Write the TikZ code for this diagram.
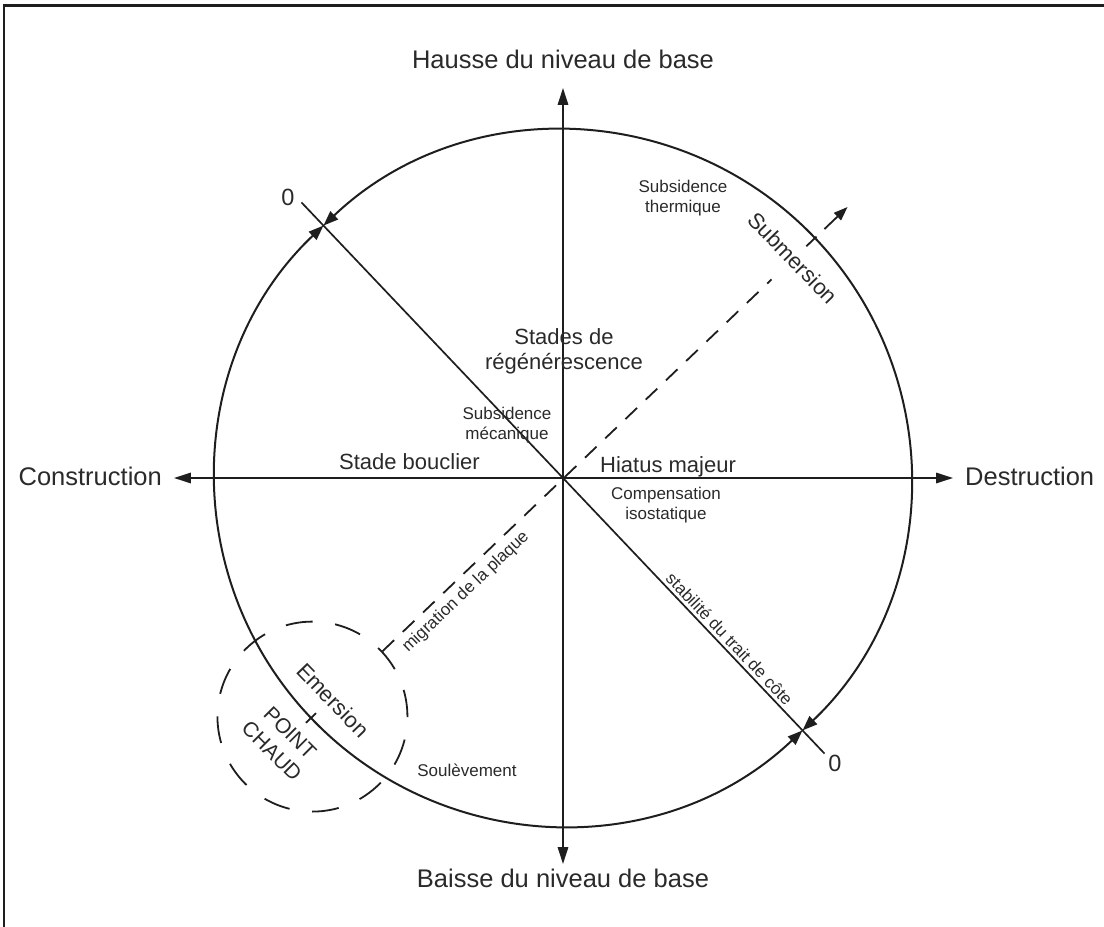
\documentclass[tikz,border=0pt]{standalone}
\usepackage{fontspec}
\setmainfont{Liberation Sans}
\usetikzlibrary{arrows.meta}
\definecolor{ink}{HTML}{1E1E1E}
\definecolor{txt}{HTML}{2A2A2A}
\begin{document}
\begin{tikzpicture}[x=1pt,y=1pt,
  axis/.style={draw=ink, line width=1.7pt},
  axtip/.style={-{Triangle[length=17pt,width=10.5pt]}},
  ring/.style={draw=ink, line width=2pt, {Triangle[length=15pt,width=11pt]}-{Triangle[length=15pt,width=11pt]}},
  dashline/.style={draw=ink, line width=1.8pt, dash pattern=on 16pt off 12pt},
  big/.style={font=\fontsize{25.5}{30}\selectfont, text=txt, inner sep=0pt},
  mid/.style={font=\fontsize{22}{25}\selectfont, text=txt, inner sep=0pt, align=center},
  small/.style={font=\fontsize{17}{20}\selectfont, text=txt, inner sep=0pt, align=center},
  zero/.style={font=\fontsize{23.5}{28}\selectfont, text=txt, inner sep=0pt},
  hot/.style={font=\fontsize{21}{26}\selectfont, text=txt, inner sep=0pt, align=center},
]
\useasboundingbox (-563,-449) rectangle (541,478);
% frame
\draw[ink, line width=3pt] (-560,472) -- (541,472);
\draw[ink, line width=2pt] (-559,473.5) -- (-559,-449);

% axes
\coordinate (C) at (0,0);
\coordinate (N) at (0,390);
\coordinate (S) at (0,-386);
\coordinate (W) at (-389,0);
\coordinate (E) at (390,0);
\draw[axis, axtip] (C) -- (N);
\draw[axis, axtip] (C) -- (S);
\draw[axis, axtip] (C) -- (W);
\draw[axis, axtip] (C) -- (E);

% big circle as two double-headed arcs
\draw[ring] (133.5:348) arc[start angle=133.5, end angle=313.5, radius=348];
\draw[ring] (-46.5:348) arc[start angle=-46.5, end angle=133.5, radius=348];

% NW-SE diagonal
\coordinate (NW) at (133.5:380);
\coordinate (SE) at (-46.5:380);
\draw[axis] (NW) -- (SE);

% hot spot dashed circle
\node[draw=ink, line width=1.8pt, dash pattern=on 27pt off 22.7pt, circle, minimum size=190pt, inner sep=0pt] (PC) at (223.6:346) {};
% plate migration dashed line
\coordinate (D2) at (43.6:288);
\draw[dashline] (PC.43.6) -- (D2);
\coordinate (T1) at (43.6:336);
\coordinate (T2) at (43.6:350);
\draw[draw=ink, line width=1.8pt] (T1) -- (T2);
\coordinate (A1) at (43.6:361);
\coordinate (A2) at (43.6:393);
\draw[draw=ink, line width=1.8pt, -{Triangle[length=14pt,width=10pt]}] (A1) -- (A2);
% hot spot tick
\coordinate (H1) at (223.6:341);
\coordinate (H2) at (223.6:355);
\draw[draw=ink, line width=1.8pt] (H1) -- (H2);

% labels
\node[big, anchor=base] (hausse) at (0,409) {Hausse du niveau de base};
\node[big, anchor=base] (baisse) at (0,-409) {Baisse du niveau de base};
\node[big, anchor=base east] (constr) at (-401,-7) {Construction};
\node[big, anchor=base west] (destr) at (402,-7) {Destruction};

\node[mid] (regen) at (1,126.5) {Stades de\\régénérescence};
\node[mid, anchor=base east] (bouclier) at (-83,9) {Stade bouclier};
\node[mid, anchor=base west] (hiatus) at (37,6) {Hiatus majeur};

\node[small] (submec) at (-56,53) {Subsidence\\mécanique};
\node[small] (comp) at (103,-27.4) {Compensation\\isostatique};
\node[small] (subth) at (120,279.6) {Subsidence\\thermique};
\node[small, anchor=base] (soul) at (-96,-298) {Soulèvement};

\node[mid, rotate=-46] (subm) at (230,220) {Submersion};
\node[mid, rotate=-46] (emer) at (-230,-222) {Emersion};
\node[hot, rotate=-45] (pchaud) at (-282,-264) {POINT\\CHAUD};

\node[small, rotate=43.6] (migr) at (-97,-114) {migration de la plaque};
\node[small, rotate=-46.5] (stab) at (166.6,-160.8) {stabilité du trait de côte};

\node[zero] (z1) at (-275,281) {0};
\node[zero] (z2) at (272,-285) {0};
\end{tikzpicture}
\end{document}
